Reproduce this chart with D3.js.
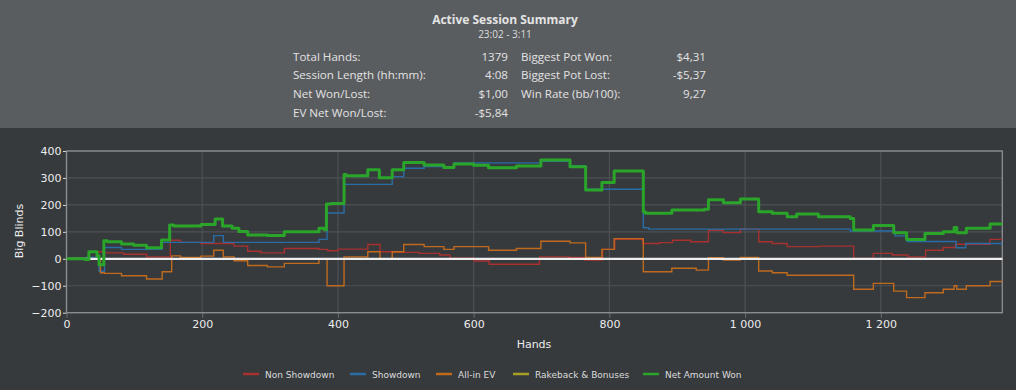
<!DOCTYPE html>
<html>
<head>
<meta charset="utf-8">
<script src="https://cdn.jsdelivr.net/npm/d3@7"></script>
<style>
  body { margin: 0; background: #363a3d; }
  svg { display: block; }
</style>
</head>
<body>
<div id="chart"></div>
<script>
var width = 1016,
    height = 390;

// summary table
var summaryTitle = "Active Session Summary";
var summaryTime = "23:02 - 3:11";
var leftLabels = ["Total Hands:", "Session Length (hh:mm):", "Net Won/Lost:", "EV Net Won/Lost:"];
var leftValues = ["1379", "4:08", "$1,00", "-$5,84"];
var rightLabels = ["Biggest Pot Won:", "Biggest Pot Lost:", "Win Rate (bb/100):"];
var rightValues = ["$4,31", "-$5,37", "9,27"];

// series, [hand, big blinds]
var nonShowdown = [[0,0],[45,26],[56,22],[84,17],[118,7],[153,69],[168,61],[198,57],[247,47],[267,28],[286,22],[321,38],[372,35],[385,30],[400,36],[444,53],[462,26],[480,24],[520,20],[550,14],[565,2],[600,-8],[623,-20],[697,7],[740,5],[763,-5],[790,35],[808,72],[849,57],[874,60],[893,69],[920,63],[946,106],[968,97],[993,110],[1020,63],[1040,57],[1062,45],[1109,47],[1160,1],[1189,20],[1217,14],[1240,7],[1266,32],[1292,42],[1310,54],[1361,72],[1379,72]];
var showdown = [[0,0],[30,5],[48,-46],[56,42],[81,35],[141,61],[217,86],[231,61],[372,72],[384,170],[409,276],[480,305],[497,336],[527,342],[571,356],[699,362],[742,345],[765,258],[850,115],[858,110],[1155,103],[1221,85],[1239,64],[1311,41],[1325,57],[1379,57]];
var allinEV = [[0,0],[50,-52],[56,-54],[81,-63],[118,-75],[141,-48],[155,11],[168,5],[198,10],[217,32],[231,7],[247,-7],[267,-25],[296,-30],[321,-17],[372,-1],[384,-100],[409,7],[444,26],[462,-2],[480,26],[497,53],[527,45],[556,35],[571,45],[622,32],[663,38],[699,65],[742,59],[765,5],[789,35],[807,75],[850,-48],[892,-35],[928,-42],[946,4],[968,-5],[993,5],[1020,-45],[1040,-52],[1062,-61],[1109,-61],[1160,-113],[1189,-91],[1219,-120],[1238,-144],[1265,-126],[1292,-113],[1308,-100],[1312,-113],[1326,-100],[1361,-84],[1379,-84]];
var rakeback = [[0,0],[1379,0]];
var netWon = [[0,0],[27,-3],[33,26],[45,10],[48,-22],[55,67],[60,63],[81,55],[99,50],[118,41],[140,70],[152,125],[158,122],[198,127],[219,148],[230,122],[244,113],[254,101],[267,88],[296,86],[321,100],[372,113],[380,108],[383,203],[390,205],[409,313],[412,308],[444,330],[461,301],[480,330],[497,357],[527,348],[556,339],[571,352],[600,347],[622,338],[663,344],[699,367],[742,342],[765,255],[789,283],[807,326],[850,175],[853,169],[892,181],[940,184],[946,219],[968,208],[993,222],[1020,175],[1040,169],[1062,156],[1076,166],[1108,156],[1155,150],[1160,107],[1189,124],[1219,97],[1238,72],[1265,94],[1292,100],[1308,116],[1312,97],[1326,113],[1361,129],[1379,129]];

var seriesNames = ["Non Showdown", "Showdown", "All-in EV", "Rakeback & Bonuses", "Net Amount Won"];
var seriesColors = ["#a8302f", "#2a6da6", "#c06a1e", "#a8a024", "#2aa52a"];
var seriesData = [nonShowdown, showdown, allinEV, rakeback, netWon];

var yTicks = [-200, -100, 0, 100, 200, 300, 400];
var xTicks = [0, 200, 400, 600, 800, 1000, 1200];

var svg = d3.select("#chart").append("svg")
  .attr("width", width)
  .attr("height", height);

svg.append("rect")
  .attr("width", width)
  .attr("height", height)
  .attr("fill", "#363a3d");

// header
svg.append("rect")
  .attr("width", width)
  .attr("height", 128)
  .attr("fill", "#5a5d60");

svg.append("text")
  .attr("x", 505).attr("y", 24)
  .attr("text-anchor", "middle")
  .style("font", "bold 12px 'Open Sans'")
  .attr("fill", "#e4e4e4")
  .text(summaryTitle);

svg.append("text")
  .attr("x", 505).attr("y", 37.5)
  .attr("text-anchor", "middle")
  .style("font", "10px 'Open Sans'")
  .attr("fill", "#dcdcdc")
  .text(summaryTime);

var rowY = d3.scaleLinear().domain([0, 1]).range([60.5, 79.3]);

function summaryCol(labels, values, lx, vx) {
  svg.append("g").selectAll("text").data(labels).enter().append("text")
    .attr("x", lx).attr("y", function(d, i) { return rowY(i); })
    .style("font", "11.6px 'Open Sans'")
    .attr("fill", "#e2e2e2")
    .text(function(d) { return d; });
  svg.append("g").selectAll("text").data(values).enter().append("text")
    .attr("x", vx).attr("y", function(d, i) { return rowY(i); })
    .attr("text-anchor", "end")
    .style("font", "11.6px 'Open Sans'")
    .attr("fill", "#e2e2e2")
    .text(function(d) { return d; });
}
summaryCol(leftLabels, leftValues, 293, 508);
summaryCol(rightLabels, rightValues, 521, 706);

// chart
var plotL = 66.5, plotR = 1002.3, plotT = 151, plotB = 312.7;

var x = d3.scaleLinear().domain([0, 1379]).range([plotL, plotR]);
var y = d3.scaleLinear().domain([-200, 400]).range([plotB, plotT]);

var g = svg.append("g");

g.selectAll(".hgrid").data(yTicks).enter().append("line")
  .attr("x1", plotL).attr("x2", plotR)
  .attr("y1", function(d) { return y(d); })
  .attr("y2", function(d) { return y(d); })
  .attr("stroke", "#4e5154")
  .attr("stroke-width", 1.2);

g.selectAll(".vgrid").data(xTicks).enter().append("line")
  .attr("y1", plotT).attr("y2", plotB)
  .attr("x1", function(d) { return x(d); })
  .attr("x2", function(d) { return x(d); })
  .attr("stroke", "#4e5154")
  .attr("stroke-width", 1.2);

// axes
var yAxis = svg.append("g")
  .attr("transform", "translate(" + plotL + ",0)")
  .call(d3.axisLeft(y).tickValues(yTicks).tickSize(3.5).tickPadding(1.5));
yAxis.select(".domain").remove();
yAxis.selectAll("line").attr("stroke", "#d8d8d8");
yAxis.selectAll("text").attr("fill", "#ececec").style("font", "11px 'DejaVu Sans'");

var xAxis = svg.append("g")
  .attr("transform", "translate(0," + plotB + ")")
  .call(d3.axisBottom(x).tickValues(xTicks).tickSize(5).tickPadding(3)
    .tickFormat(function(d) { return d3.format(",")(d).replace(",", " "); }));
xAxis.select(".domain").remove();
xAxis.selectAll("line").attr("stroke", "#6a6d70");
xAxis.selectAll("text").attr("fill", "#ececec").style("font", "11px 'DejaVu Sans'");

svg.append("rect")
  .attr("x", plotL).attr("y", plotT)
  .attr("width", plotR - plotL).attr("height", plotB - plotT)
  .attr("fill", "none")
  .attr("stroke", "#8e9093")
  .attr("stroke-width", 1.3);

svg.append("text")
  .attr("transform", "translate(23,231) rotate(-90)")
  .attr("text-anchor", "middle")
  .style("font", "11px 'DejaVu Sans'")
  .attr("fill", "#ececec")
  .text("Big Blinds");

svg.append("text")
  .attr("x", 534).attr("y", 348)
  .attr("text-anchor", "middle")
  .style("font", "11px 'DejaVu Sans'")
  .attr("fill", "#ececec")
  .text("Hands");

var line = d3.line()
  .x(function(d) { return x(d[0]); })
  .y(function(d) { return y(d[1]); })
  .curve(d3.curveStepAfter);

var lines = svg.append("g");

[0, 1, 2, 3].forEach(function(i) {
  lines.append("path")
    .attr("d", line(seriesData[i]))
    .attr("fill", "none")
    .attr("stroke", seriesColors[i])
    .attr("stroke-width", 1.4);
});

lines.append("line")
  .attr("x1", x(0)).attr("x2", x(1379))
  .attr("y1", y(0)).attr("y2", y(0))
  .attr("stroke", "#eeeeee")
  .attr("stroke-width", 2.2);

lines.append("path")
  .attr("d", line(netWon))
  .attr("fill", "none")
  .attr("stroke", seriesColors[4])
  .attr("stroke-width", 3)
  .attr("stroke-linejoin", "round");

// legend
var legendX = [243, 350, 436, 513, 643];
var legend = svg.append("g").selectAll("g").data(seriesNames).enter().append("g")
  .attr("transform", function(d, i) { return "translate(" + legendX[i] + ",374)"; });
legend.append("line")
  .attr("x1", 0).attr("x2", 16)
  .attr("stroke", function(d, i) { return seriesColors[i]; })
  .attr("stroke-width", 2.5);
legend.append("text")
  .attr("x", 22).attr("y", 4)
  .style("font", "9px 'DejaVu Sans'")
  .attr("fill", "#dcdcdc")
  .text(function(d) { return d; });
</script>
</body>
</html>
